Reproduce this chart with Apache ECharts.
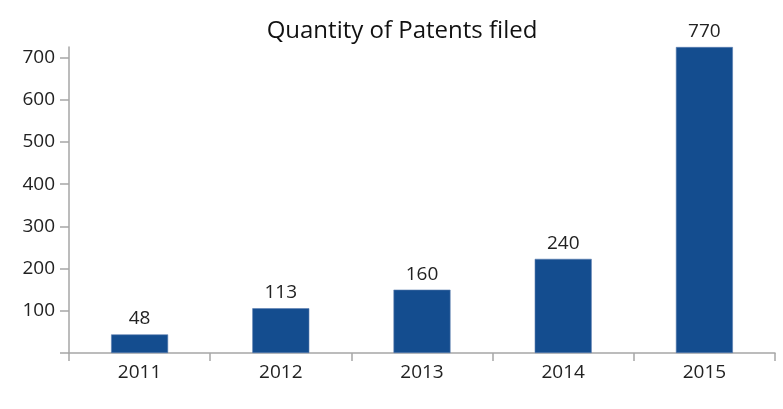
<!DOCTYPE html>
<html><head><meta charset="utf-8">
<script src="https://cdn.jsdelivr.net/npm/echarts@6/dist/echarts.min.js"></script>
<style>html,body{margin:0;padding:0;background:#fff}#c{width:783px;height:409px}</style>
</head><body><div id="c"></div>
<script>
const categories = ['2011', '2012', '2013', '2014', '2015'];
const barHeights = [44, 106, 150, 223, 725];
const barLabels = ['48', '113', '160', '240', '770'];
const yTicks = [0, 100, 200, 300, 400, 500, 600, 700];
const yLabels = [100, 200, 300, 400, 500, 600, 700];
const titleText = 'Quantity of Patents filed';

const FONT = '"Open Sans", "Noto Sans", sans-serif';
const chart = echarts.init(document.getElementById('c'), null, {renderer: 'canvas'});
chart.setOption({
  animation: false,
  backgroundColor: '#fff',
  title: {
    text: titleText, left: 397, top: 14, textAlign: 'center',
    textStyle: {fontFamily: FONT, fontSize: 24, fontWeight: 'normal', color: '#111'}
  },
  grid: {left: 69, right: 8, top: 47, bottom: 56, containLabel: false},
  xAxis: {
    type: 'category', data: categories,
    axisLine: {lineStyle: {color: '#a6a6a6', width: 1.5}},
    axisTick: {show: true, alignWithLabel: false, length: 8, lineStyle: {color: '#a6a6a6', width: 1.5}},
    axisLabel: {fontFamily: FONT, fontSize: 19, color: '#222', margin: 10}
  },
  yAxis: {
    type: 'value', min: 0, max: 725,
    axisLine: {show: true, lineStyle: {color: '#a6a6a6', width: 1.5}},
    axisTick: {show: true, length: 9, customValues: yTicks, lineStyle: {color: '#a6a6a6', width: 1.5}},
    axisLabel: {fontFamily: FONT, fontSize: 19, color: '#222', margin: 14, customValues: yLabels},
    splitLine: {show: false}
  },
  series: [{
    type: 'bar', data: barHeights, barWidth: 57,
    itemStyle: {color: '#144d8f', borderColor: '#5b7cae', borderWidth: 0.6},
    label: {
      show: true, position: 'top', distance: 6,
      fontFamily: FONT, fontSize: 19, color: '#222',
      formatter: p => barLabels[p.dataIndex]
    }
  }]
});
</script></body></html>
